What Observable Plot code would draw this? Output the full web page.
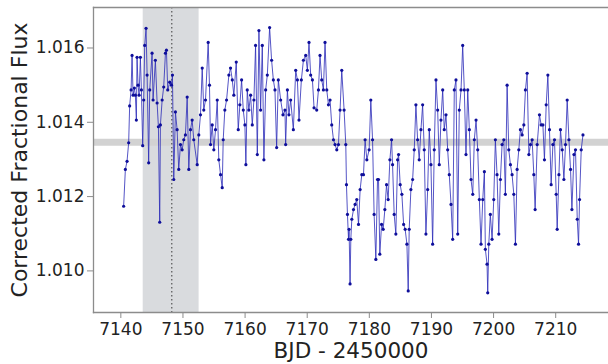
<!DOCTYPE html>
<html><head><meta charset="utf-8">
<script src="https://cdn.jsdelivr.net/npm/d3@7"></script>
<script src="https://cdn.jsdelivr.net/npm/@observablehq/plot@0.6"></script>
<style>body{margin:0;background:#fff;}</style>
</head><body><div id="chart"></div>
<script>
// [BJD - 2450000, corrected fractional flux]
const lightCurve = [
[7140.45,1.01174],[7140.73,1.01273],[7141.0,1.01295],[7141.26,1.01345],[7141.42,1.01444],[7141.65,1.01487],[7141.81,1.01580],[7141.97,1.01473],[7142.18,1.01492],[7142.34,1.01473],[7142.5,1.01406],[7142.61,1.01575],[7142.77,1.01500],[7142.94,1.01473],[7143.15,1.01575],[7143.31,1.01487],[7143.52,1.01337],[7143.68,1.01460],[7143.84,1.01607],[7144.06,1.01653],[7144.23,1.01527],[7144.48,1.01291],[7144.65,1.01487],[7145.03,1.01586],[7145.19,1.01460],[7145.56,1.01567],[7145.84,1.01452],[7146.05,1.01388],[7146.26,1.01131],[7146.37,1.01393],[7146.65,1.01460],[7146.9,1.01495],[7147.18,1.01586],[7147.34,1.01594],[7147.55,1.01487],[7147.87,1.01508],[7148.15,1.01500],[7148.31,1.01527],[7148.52,1.01246],[7148.79,1.01428],[7149.06,1.01380],[7149.32,1.01273],[7149.6,1.01340],[7149.87,1.01326],[7150.13,1.01353],[7150.4,1.01366],[7150.68,1.01468],[7150.94,1.01273],[7151.21,1.01380],[7151.48,1.01406],[7151.74,1.01353],[7152.29,1.01286],[7152.55,1.01366],
[7152.82,1.01420],[7153.1,1.01546],[7153.35,1.01433],[7153.63,1.01460],[7154.06,1.01615],[7154.27,1.01500],[7154.44,1.01340],[7154.71,1.01393],[7154.97,1.01326],[7155.24,1.01380],[7155.52,1.01460],[7155.77,1.01299],[7156.05,1.01259],[7156.32,1.01224],[7156.48,1.01353],[7156.74,1.01433],[7157.02,1.01460],[7157.39,1.01527],[7157.66,1.01546],[7157.94,1.01514],[7158.19,1.01473],[7158.58,1.01562],[7158.9,1.01380],[7159.16,1.01447],[7159.44,1.01514],[7159.71,1.01433],[7159.97,1.01393],[7160.13,1.01286],[7160.35,1.01487],[7160.61,1.01433],[7160.89,1.01473],[7161.16,1.01393],[7161.42,1.01460],[7161.69,1.01607],[7161.97,1.01313],[7162.23,1.01647],[7162.5,1.01433],[7162.77,1.01607],[7163.03,1.01299],[7163.31,1.01487],[7163.58,1.01527],[7163.95,1.01655],[7164.27,1.01567],[7164.55,1.01514],[7164.81,1.01487],[7165.08,1.01332],[7165.35,1.01514],[7165.73,1.01460],[7166.1,1.01420],[7166.42,1.01433],
[7166.53,1.01340],[7166.81,1.01487],[7167.06,1.01420],[7167.34,1.01460],[7167.77,1.01380],[7168.15,1.01540],[7168.42,1.01514],[7168.68,1.01406],[7169.06,1.01514],[7169.39,1.01567],[7169.76,1.01580],[7170.03,1.01540],[7170.29,1.01615],[7170.56,1.01527],[7170.84,1.01514],[7171.1,1.01439],[7171.53,1.01433],[7171.81,1.01487],[7172.06,1.01580],[7172.34,1.01514],[7172.61,1.01487],[7172.87,1.01615],[7173.15,1.01487],[7173.42,1.01447],[7173.68,1.01460],[7173.95,1.01393],[7174.23,1.01353],[7174.48,1.01340],[7174.76,1.01326],[7175.03,1.01340],[7175.29,1.01433],[7175.56,1.01540],[7175.94,1.01433],[7176.21,1.01340],[7176.32,1.01232],[7176.48,1.01152],[7176.65,1.01085],[7176.74,1.01112],[7176.9,1.00965],[7177.02,1.01085],[7177.18,1.01139],[7177.45,1.01165],[7177.71,1.01179],[7177.98,1.01192],[7178.26,1.01125],[7178.52,1.01219],[7178.79,1.01259],[7179.06,1.01259],[7179.32,1.01353],[7179.6,1.01299],[7179.97,1.01326],[7180.24,1.01460],
[7180.52,1.01353],[7180.77,1.01152],[7181.05,1.01031],[7181.32,1.01246],[7181.48,1.01246],[7181.69,1.01045],[7181.97,1.01125],[7182.23,1.01112],[7182.5,1.01165],[7182.77,1.01232],[7183.03,1.01192],[7183.31,1.01299],[7183.58,1.01353],[7183.74,1.01286],[7184.0,1.01152],[7184.27,1.01099],[7184.55,1.01299],[7184.71,1.01313],[7184.97,1.01232],[7185.24,1.01206],[7185.52,1.01125],[7185.77,1.01112],[7186.05,1.01072],[7186.26,1.00946],[7186.42,1.01112],[7186.69,1.01219],[7186.97,1.01246],[7187.23,1.01326],[7187.5,1.01447],[7187.77,1.01353],[7188.03,1.01299],[7188.31,1.01380],[7188.58,1.01447],[7188.84,1.01326],[7189.11,1.01099],[7189.39,1.01219],[7189.65,1.01380],[7189.92,1.01286],[7190.19,1.01072],[7190.45,1.01326],[7190.73,1.01514],[7191.0,1.01433],[7191.26,1.01286],[7191.53,1.01406],[7191.81,1.01487],[7192.06,1.01380],[7192.34,1.01420],[7192.61,1.01326],[7192.87,1.01259],[7193.15,1.01179],[7193.42,1.01085],
[7193.68,1.01487],[7193.95,1.01514],[7194.23,1.01099],[7194.48,1.01433],[7194.76,1.01487],[7195.03,1.01607],[7195.29,1.01487],[7195.56,1.01313],[7195.84,1.01487],[7196.1,1.01380],[7196.37,1.01246],[7196.65,1.01206],[7196.9,1.01353],[7197.18,1.01406],[7197.45,1.01326],[7197.71,1.01192],[7197.98,1.01072],[7198.26,1.01192],[7198.52,1.01267],[7198.68,1.01058],[7198.95,1.01018],[7199.06,1.00941],[7199.23,1.01072],[7199.48,1.01152],[7199.76,1.01085],[7200.03,1.01192],[7200.29,1.01353],[7200.56,1.01259],[7200.84,1.01099],[7201.1,1.01246],[7201.37,1.01340],[7201.65,1.01353],[7201.9,1.01206],[7202.18,1.01500],[7202.45,1.01326],[7202.71,1.01286],[7202.98,1.01259],[7203.26,1.01206],[7203.52,1.01072],[7203.79,1.01273],[7204.06,1.01326],[7204.32,1.01380],[7204.6,1.01366],[7204.87,1.01393],[7205.13,1.01487],[7205.4,1.01532],[7205.68,1.01313],[7205.94,1.01340],
[7206.21,1.01353],[7206.48,1.01259],[7206.69,1.01165],[7207.02,1.01340],[7207.39,1.01420],[7207.66,1.01393],[7207.94,1.01393],[7208.19,1.01299],[7208.47,1.01447],[7208.74,1.01527],[7209.0,1.01380],[7209.27,1.01232],[7209.55,1.01340],[7209.81,1.01353],[7210.08,1.01206],[7210.24,1.01112],[7210.52,1.01259],[7210.77,1.01380],[7211.05,1.01326],[7211.32,1.01246],[7211.58,1.01340],[7211.85,1.01460],[7212.13,1.01353],[7212.39,1.01273],[7212.61,1.01165],[7212.94,1.01313],[7213.19,1.01326],[7213.47,1.01139],[7213.68,1.01072],[7213.84,1.01192],[7214.11,1.01326],[7214.39,1.01366]
];
const xTicks = [7140, 7150, 7160, 7170, 7180, 7190, 7200, 7210];
const yTicks = [1.010, 1.012, 1.014, 1.016];
const xDomain = [7135.6, 7218.5];
const yDomain = [1.00888, 1.01709];
const shadedSpan = [{start: 7143.6, end: 7152.6}];
const markerTime = [7148.2];
const meanFlux = [1.01346];
const xLabel = "BJD - 2450000";
const yLabel = "Corrected Fractional Flux";

const data = lightCurve.map(([t, f]) => ({t, f}));
const spine = "#8c8c8c";
const chart = Plot.plot({
  width: 608, height: 364,
  marginLeft: 93, marginRight: 0, marginTop: 7, marginBottom: 52,
  style: {fontFamily: "DejaVu Sans", fontSize: "17px", color: "#222", background: "#fff"},
  x: {domain: xDomain, label: null},
  y: {domain: yDomain, label: null},
  marks: [
    Plot.rectX(shadedSpan, {x1: "start", x2: "end", fill: "#d9dbde"}),
    Plot.ruleY(meanFlux, {stroke: "#d2d2d2", strokeWidth: 7}),
    Plot.ruleX(markerTime, {stroke: "#555", strokeDasharray: "1.5,2.5", strokeWidth: 1.2}),
    Plot.line(data, {x: "t", y: "f", stroke: "#2a2ab8", strokeWidth: 1, strokeOpacity: 0.8}),
    Plot.dot(data, {x: "t", y: "f", r: 1.6, fill: "#0e0e9a", stroke: "none"}),
    Plot.axisX({ticks: xTicks, tickFormat: d => String(d), tickSize: 6, tickPadding: 4, fontSize: 17, stroke: spine, fill: "#222", label: null}),
    Plot.axisY({ticks: yTicks, tickFormat: d3.format(".3f"), tickSize: 6, tickPadding: 3, fontSize: 17, stroke: spine, fill: "#222", label: null}),
    Plot.frame({anchor: "top", stroke: spine, strokeWidth: 1.3}),
    Plot.frame({anchor: "left", stroke: spine, strokeWidth: 1.3}),
    Plot.frame({anchor: "bottom", stroke: spine, strokeWidth: 1.3}),
    Plot.text([yLabel], {frameAnchor: "left", dx: -74, rotate: -90, textAnchor: "middle", lineAnchor: "middle", fontSize: 22, fill: "#222"}),
    Plot.text([xLabel], {frameAnchor: "bottom", dy: 39, textAnchor: "middle", lineAnchor: "middle", fontSize: 21.5, fill: "#222"})
  ]
});
document.getElementById("chart").appendChild(chart);
</script>
</body></html>
